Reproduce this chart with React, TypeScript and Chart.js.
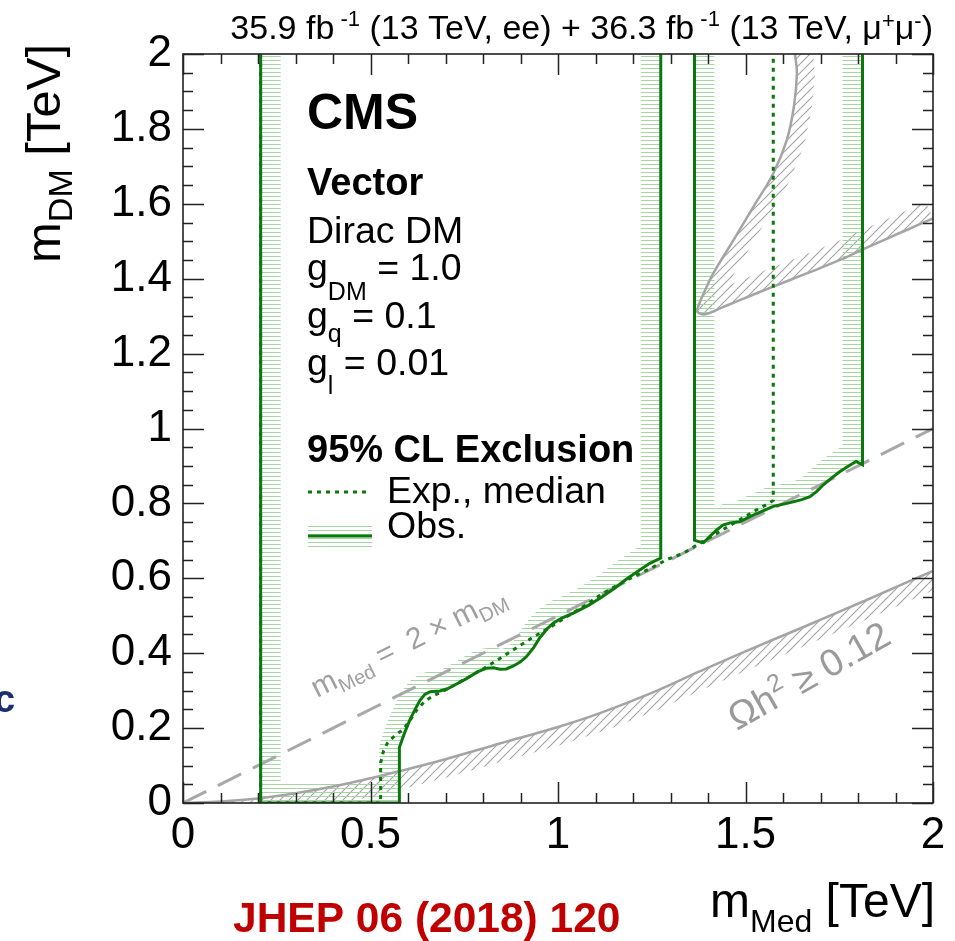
import React, { useEffect, useRef } from 'react';
import { Chart, registerables } from 'chart.js';

Chart.register(...registerables);

const FONT = '"Liberation Sans", Arial, Helvetica, sans-serif';

// axis ranges / ticks (TeV)
const xRange: [number, number] = [0, 2];
const yRange: [number, number] = [0, 2];
const xMajorStep = 0.5;
const xMinorStep = 0.1;
const yMajorStep = 0.2;
const yMinorStep = 0.05;

// observed exclusion contour, low-mass island [mMed, mDM]
const obsLowMass: [number, number][] = [
  [0.207, 2.0], [0.207, 0.0], [0.577, 0.0], [0.577, 0.148], [0.59, 0.185],
  [0.605, 0.222], [0.62, 0.252], [0.632, 0.274], [0.645, 0.29], [0.659, 0.297],
  [0.685, 0.299], [0.705, 0.305], [0.721, 0.313], [0.756, 0.332], [0.785, 0.35],
  [0.81, 0.36], [0.828, 0.361], [0.845, 0.357], [0.862, 0.358], [0.881, 0.366],
  [0.9, 0.377], [0.916, 0.391], [0.935, 0.415], [0.952, 0.442], [0.97, 0.464],
  [0.987, 0.48], [1.01, 0.494], [1.041, 0.507], [1.08, 0.527], [1.112, 0.547],
  [1.15, 0.573], [1.183, 0.598], [1.215, 0.62], [1.245, 0.64], [1.274, 0.654],
  [1.274, 2.0],
];

// observed exclusion contour, high-mass island
const obsHighMass: [number, number][] = [
  [1.364, 2.0], [1.364, 0.702], [1.375, 0.698], [1.388, 0.695], [1.405, 0.712],
  [1.423, 0.729], [1.44, 0.742], [1.459, 0.748], [1.485, 0.751], [1.507, 0.762],
  [1.53, 0.773], [1.574, 0.792], [1.619, 0.802], [1.65, 0.81], [1.672, 0.818],
  [1.69, 0.832], [1.707, 0.849], [1.73, 0.868], [1.752, 0.885], [1.775, 0.9],
  [1.795, 0.912], [1.812, 0.903], [1.812, 2.0],
];

// expected (median) exclusion contour
const expMedian: [number, number][] = [
  [0.207, 2.0], [0.207, 0.0], [0.527, 0.0], [0.527, 0.107], [0.535, 0.14],
  [0.545, 0.16], [0.565, 0.18], [0.588, 0.197], [0.605, 0.22], [0.623, 0.248],
  [0.645, 0.272], [0.667, 0.286], [0.7, 0.302], [0.756, 0.333], [0.8, 0.358],
  [0.845, 0.386], [0.89, 0.415], [0.934, 0.443], [0.98, 0.47], [1.023, 0.497],
  [1.07, 0.526], [1.112, 0.555], [1.16, 0.583], [1.201, 0.604], [1.25, 0.628],
  [1.29, 0.65], [1.334, 0.667], [1.39, 0.7], [1.45, 0.736], [1.494, 0.762],
  [1.53, 0.783], [1.562, 0.8], [1.574, 0.808], [1.574, 2.0],
];

// relic density curve (Omega h^2 = 0.12), lower branch
const relicLower: [number, number][] = [
  [0.0, 0.0], [0.1, 0.004], [0.2, 0.012], [0.3, 0.026], [0.4, 0.044],
  [0.5, 0.066], [0.577, 0.085], [0.7, 0.117], [0.845, 0.159], [1.0, 0.203],
  [1.112, 0.24], [1.25, 0.294], [1.379, 0.352], [1.5, 0.405], [1.65, 0.468],
  [1.823, 0.542], [2.0, 0.62],
];

// relic density curve, high-mass closed region
const relicUpper: [number, number][] = [
  [1.632, 2.0], [1.637, 1.948], [1.629, 1.859], [1.61, 1.77], [1.574, 1.681],
  [1.521, 1.592], [1.468, 1.503], [1.414, 1.414], [1.388, 1.36], [1.374, 1.326],
  [1.372, 1.312], [1.385, 1.305], [1.4, 1.307], [1.44, 1.324], [1.485, 1.343],
  [1.574, 1.379], [1.663, 1.414], [1.752, 1.45], [1.812, 1.478], [1.93, 1.53],
  [2.0, 1.561],
];

// mMed = 2 x mDM reference line
const diagonal: [number, number][] = [[0, 0], [2, 1]];

type Seg = { t: string; s: number; b?: boolean; dy?: number };

function segFont(seg: Seg) {
  return `${seg.b ? 'bold ' : ''}${seg.s}px ${FONT}`;
}
function segsWidth(ctx: CanvasRenderingContext2D, segs: Seg[]) {
  let w = 0;
  for (const sg of segs) {
    ctx.font = segFont(sg);
    w += ctx.measureText(sg.t).width;
  }
  return w;
}
function drawSegs(ctx: CanvasRenderingContext2D, segs: Seg[], x: number, y: number, color: string) {
  ctx.fillStyle = color;
  ctx.textAlign = 'left';
  ctx.textBaseline = 'alphabetic';
  let cx = x;
  for (const sg of segs) {
    ctx.font = segFont(sg);
    ctx.fillText(sg.t, cx, y + (sg.dy || 0));
    cx += ctx.measureText(sg.t).width;
  }
}

function makeGreenPattern(ctx: CanvasRenderingContext2D) {
  const c = document.createElement('canvas');
  c.width = 4; c.height = 4;
  const g = c.getContext('2d')!;
  g.fillStyle = '#a6d4a6';
  g.fillRect(0, 0, 4, 1);
  return ctx.createPattern(c, 'repeat')!;
}
function makeGreyPattern(ctx: CanvasRenderingContext2D) {
  const n = 9;
  const c = document.createElement('canvas');
  c.width = n; c.height = n;
  const g = c.getContext('2d')!;
  g.strokeStyle = '#a2a2a2';
  g.lineWidth = 1.1;
  g.beginPath();
  g.moveTo(-1, n + 1); g.lineTo(n + 1, -1);
  g.moveTo(-1, 1); g.lineTo(1, -1);
  g.moveTo(n - 1, n + 1); g.lineTo(n + 1, n - 1);
  g.stroke();
  return ctx.createPattern(c, 'repeat')!;
}

function hatchBand(
  ctx: CanvasRenderingContext2D,
  pts: number[][],
  extra: number[][],
  pattern: CanvasPattern,
  w: number,
) {
  ctx.save();
  ctx.beginPath();
  pts.forEach(([a, b], i) => (i ? ctx.lineTo(a, b) : ctx.moveTo(a, b)));
  extra.forEach(([a, b]) => ctx.lineTo(a, b));
  ctx.closePath();
  ctx.clip();
  ctx.beginPath();
  pts.forEach(([a, b], i) => (i ? ctx.lineTo(a, b) : ctx.moveTo(a, b)));
  ctx.lineWidth = 2 * w;
  ctx.lineJoin = 'round';
  ctx.strokeStyle = pattern;
  ctx.stroke();
  ctx.restore();
}

const GREEN = '#0a780a';
const GREY_LINE = '#a4a4a4';
const GREY_TEXT = '#a0a0a0';

const rootPlugin = {
  id: 'rootStyle',
  beforeDatasetsDraw(chart: any) {
    const { ctx, chartArea: a, scales } = chart;
    const x = scales.x, y = scales.y;
    const px = (p: number[]) => [x.getPixelForValue(p[0]), y.getPixelForValue(p[1])];
    const gp = makeGreenPattern(ctx);
    const yp = makeGreyPattern(ctx);
    ctx.save();
    ctx.beginPath();
    ctx.rect(a.left, a.top, a.right - a.left, a.bottom - a.top);
    ctx.clip();
    hatchBand(ctx, relicLower.map(px), [px([2, 0])], yp, 18);
    hatchBand(ctx, relicUpper.map(px), [px([2, 2])], yp, 18);
    hatchBand(ctx, obsLowMass.map(px), [], gp, 20);
    hatchBand(ctx, obsHighMass.map(px), [], gp, 20);
    ctx.restore();
  },
  afterDatasetsDraw(chart: any) {
    const { ctx, chartArea: a, scales } = chart;
    const x = scales.x, y = scales.y;
    ctx.save();
    // frame
    ctx.strokeStyle = '#222';
    ctx.lineWidth = 1.6;
    ctx.strokeRect(a.left, a.top, a.right - a.left, a.bottom - a.top);
    // ticks (inside)
    ctx.beginPath();
    const nx = Math.round((xRange[1] - xRange[0]) / xMinorStep);
    for (let i = 0; i <= nx; i++) {
      const v = xRange[0] + i * xMinorStep;
      const major = Math.abs(v / xMajorStep - Math.round(v / xMajorStep)) < 1e-6;
      const len = major ? 21 : 10;
      const p = Math.round(x.getPixelForValue(v)) + 0.5;
      ctx.moveTo(p, a.bottom); ctx.lineTo(p, a.bottom - len);
      ctx.moveTo(p, a.top); ctx.lineTo(p, a.top + len);
    }
    const ny = Math.round((yRange[1] - yRange[0]) / yMinorStep);
    for (let i = 0; i <= ny; i++) {
      const v = yRange[0] + i * yMinorStep;
      const major = Math.abs(v / yMajorStep - Math.round(v / yMajorStep)) < 1e-6;
      const len = major ? 21 : 10;
      const p = Math.round(y.getPixelForValue(v)) + 0.5;
      ctx.moveTo(a.left, p); ctx.lineTo(a.left + len, p);
      ctx.moveTo(a.right, p); ctx.lineTo(a.right - len, p);
    }
    ctx.lineWidth = 1.5;
    ctx.stroke();
    ctx.restore();
  },
  afterDraw(chart: any) {
    const { ctx } = chart;
    ctx.save();
    // top luminosity text
    const top: Seg[] = [
      { t: '35.9 fb', s: 34 }, { t: ' -1', s: 22, dy: -13 },
      { t: ' (13 TeV, ee) + 36.3 fb', s: 34 }, { t: ' -1', s: 22, dy: -13 },
      { t: ' (13 TeV, \u03bc', s: 34 }, { t: '+', s: 22, dy: -11 },
      { t: '\u03bc', s: 34 }, { t: '-', s: 22, dy: -11 }, { t: ')', s: 34 },
    ];
    drawSegs(ctx, top, 933 - segsWidth(ctx, top), 39, '#000');

    // CMS block
    drawSegs(ctx, [{ t: 'CMS', s: 50, b: true }], 307, 129, '#000');
    drawSegs(ctx, [{ t: 'Vector', s: 38, b: true }], 307, 195, '#000');
    drawSegs(ctx, [{ t: 'Dirac DM', s: 37.5 }], 307, 243, '#000');
    drawSegs(ctx, [{ t: 'g', s: 37.5 }, { t: 'DM', s: 25, dy: 20 }, { t: ' = 1.0', s: 37.5 }], 307, 280, '#000');
    drawSegs(ctx, [{ t: 'g', s: 37.5 }, { t: 'q', s: 25, dy: 14 }, { t: ' = 0.1', s: 37.5 }], 307, 328, '#000');
    drawSegs(ctx, [{ t: 'g', s: 37.5 }, { t: 'l', s: 25, dy: 19 }, { t: ' = 0.01', s: 37.5 }], 307, 375, '#000');
    drawSegs(ctx, [{ t: '95% CL Exclusion', s: 38, b: true }], 307, 462, '#000');

    // legend
    ctx.strokeStyle = GREEN;
    ctx.lineWidth = 3;
    ctx.setLineDash([4, 5]);
    ctx.beginPath(); ctx.moveTo(308, 492); ctx.lineTo(368, 492); ctx.stroke();
    ctx.setLineDash([]);
    ctx.fillStyle = '#a6d4a6';
    for (let yy = 526; yy <= 546; yy += 4) ctx.fillRect(308, yy, 64, 1);
    ctx.beginPath(); ctx.moveTo(308, 536); ctx.lineTo(372, 536); ctx.stroke();
    drawSegs(ctx, [{ t: 'Exp., median', s: 37.5 }], 387, 503, '#000');
    drawSegs(ctx, [{ t: 'Obs.', s: 37.5 }], 387, 538, '#000');

    // diagonal label
    ctx.save();
    ctx.translate(317, 698);
    ctx.rotate(-26.5 * Math.PI / 180);
    drawSegs(ctx, [
      { t: 'm', s: 30 }, { t: 'Med', s: 20, dy: 7 }, { t: ' =  2 \u00d7 m', s: 30 }, { t: 'DM', s: 20, dy: 7 },
    ], 0, 0, GREY_TEXT);
    ctx.restore();

    // relic label
    ctx.save();
    ctx.translate(737, 731);
    ctx.rotate(-29.5 * Math.PI / 180);
    drawSegs(ctx, [
      { t: '\u03a9h', s: 38 }, { t: '2', s: 25, dy: -15 }, { t: ' \u2265 0.12', s: 38 },
    ], 0, 0, '#9a9a9a');
    ctx.restore();

    // y axis title
    ctx.save();
    const yt: Seg[] = [{ t: 'm', s: 49 }, { t: 'DM', s: 34, dy: 12 }, { t: ' [TeV]', s: 49 }];
    const ytw = segsWidth(ctx, yt);
    ctx.translate(60, 44 + ytw);
    ctx.rotate(-Math.PI / 2);
    drawSegs(ctx, yt, 0, 0, '#000');
    ctx.restore();

    // x axis title
    const xt: Seg[] = [{ t: 'm', s: 48 }, { t: 'Med', s: 32, dy: 15 }, { t: ' [TeV]', s: 48 }];
    drawSegs(ctx, xt, 935 - segsWidth(ctx, xt), 917, '#000');

    // journal reference
    drawSegs(ctx, [{ t: 'JHEP 06 (2018) 120', s: 42.5, b: true }], 233, 932, '#c00000');

    // cropped fragment at left edge
    drawSegs(ctx, [{ t: 'c', s: 38, b: true }], -6, 712, '#1c2f72');
    ctx.restore();
  },
};

const toXY = (arr: [number, number][]) => arr.map(([x, y]) => ({ x, y }));

export default function App() {
  const ref = useRef<HTMLCanvasElement | null>(null);
  useEffect(() => {
    if (!ref.current) return;
    const chart = new Chart(ref.current, {
      type: 'scatter',
      data: {
        datasets: [
          { label: 'Obs. low', data: toXY(obsLowMass), showLine: true, borderColor: GREEN, borderWidth: 3, pointRadius: 0, tension: 0, order: 0 } as any,
          { label: 'Obs. high', data: toXY(obsHighMass), showLine: true, borderColor: GREEN, borderWidth: 3, pointRadius: 0, tension: 0, order: 0 } as any,
          { label: 'Exp., median', data: toXY(expMedian), showLine: true, borderColor: GREEN, borderWidth: 3, borderDash: [4, 5], pointRadius: 0, tension: 0, order: 1 } as any,
          { label: 'Relic lower', data: toXY(relicLower), showLine: true, borderColor: GREY_LINE, borderWidth: 2.5, pointRadius: 0, tension: 0.4, order: 2 } as any,
          { label: 'Relic upper', data: toXY(relicUpper), showLine: true, borderColor: GREY_LINE, borderWidth: 2.5, pointRadius: 0, tension: 0.4, order: 2 } as any,
          { label: 'mMed = 2 mDM', data: toXY(diagonal), showLine: true, borderColor: '#a8a8a8', borderWidth: 3, borderDash: [26, 13], pointRadius: 0, tension: 0, order: 3 } as any,
        ],
      },
      options: {
        animation: false,
        responsive: false,
        devicePixelRatio: 1,
        layout: { padding: { top: 54, right: 22, left: 0, bottom: 0 } },
        plugins: { legend: { display: false }, tooltip: { enabled: false } },
        events: [],
        scales: {
          x: {
            type: 'linear', min: xRange[0], max: xRange[1], position: 'bottom',
            grid: { display: false, drawTicks: false },
            border: { display: false },
            ticks: {
              stepSize: xMajorStep, autoSkip: false, maxRotation: 0, padding: 6,
              color: '#000', font: { family: FONT, size: 44 },
              callback: (v: any) => String(Math.round(Number(v) * 100) / 100),
            },
            afterFit: (s: any) => { s.height = 138; },
          },
          y: {
            type: 'linear', min: yRange[0], max: yRange[1],
            grid: { display: false, drawTicks: false },
            border: { display: false },
            ticks: {
              stepSize: yMajorStep, autoSkip: false, padding: 11,
              color: '#000', font: { family: FONT, size: 44 },
              callback: (v: any) => String(Math.round(Number(v) * 100) / 100),
            },
            afterFit: (s: any) => { s.width = 183; },
          },
        },
      } as any,
      plugins: [rootPlugin],
    });
    return () => chart.destroy();
  }, []);
  return (
    <div style={{ position: 'absolute', left: 0, top: 0, width: 955, height: 941, background: '#fff' }}>
      <canvas ref={ref} width={955} height={941} style={{ width: 955, height: 941, display: 'block' }} />
    </div>
  );
}
